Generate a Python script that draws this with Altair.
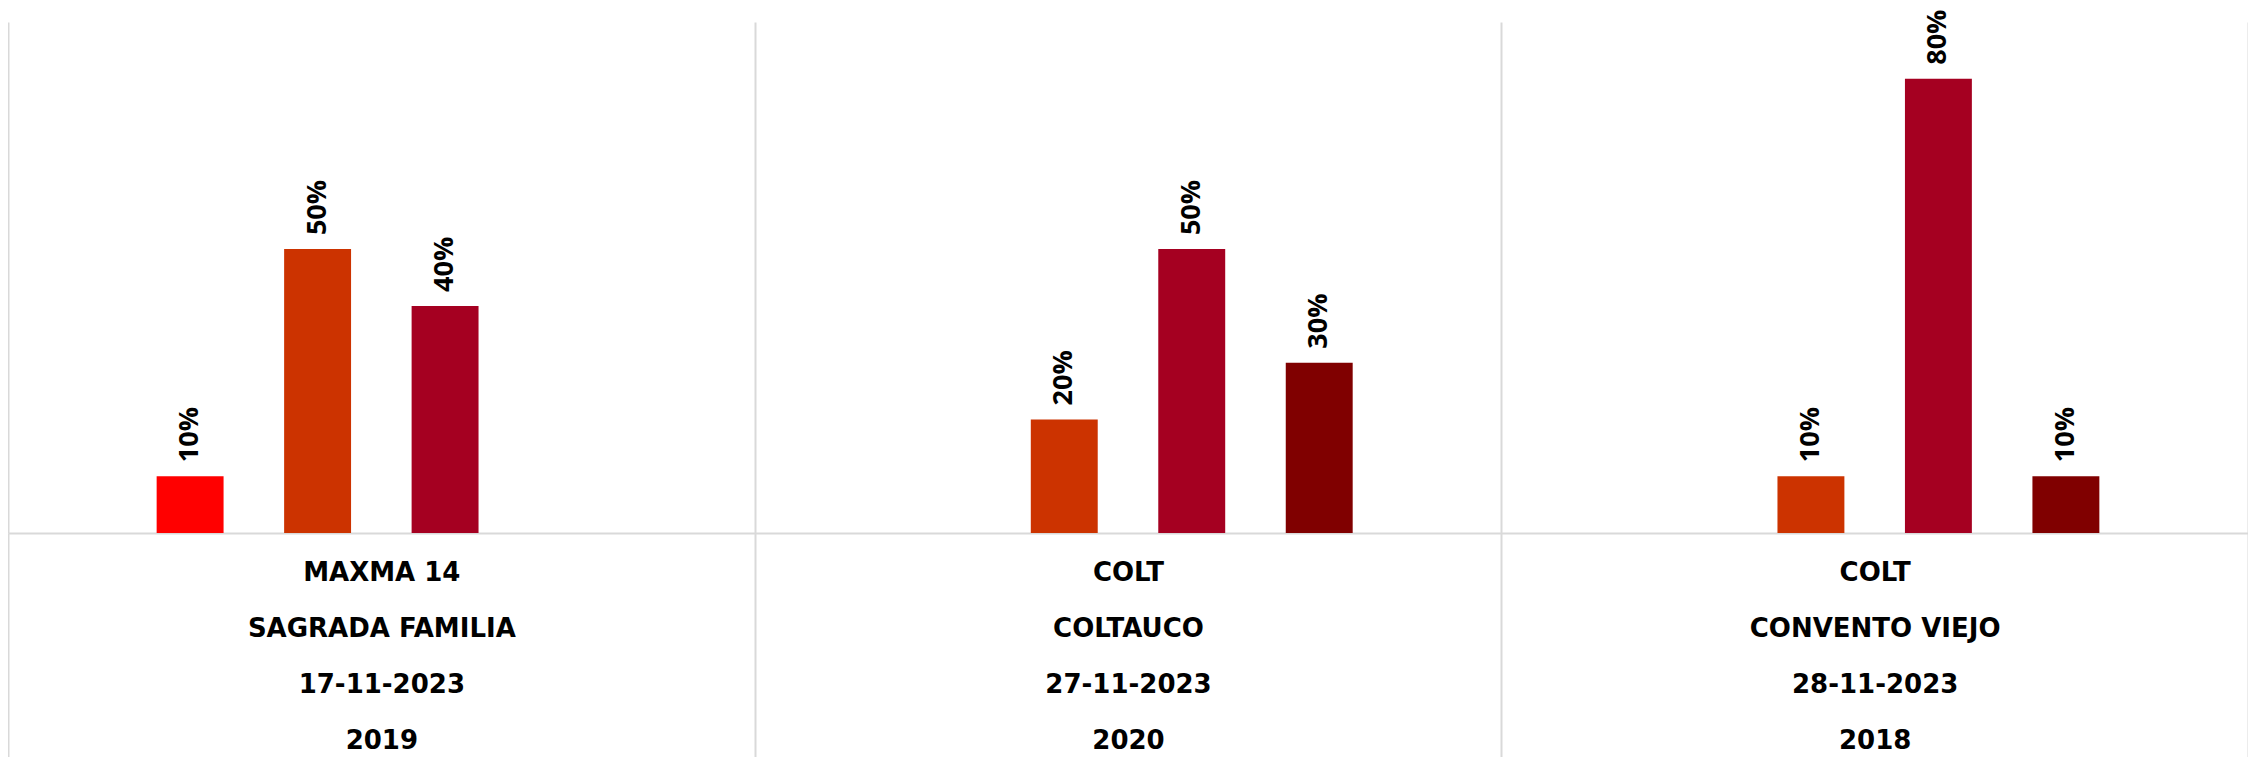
import altair as alt
import pandas as pd

# ---- data ----
variedad = ["MAXMA 14", "COLT", "COLT"]
localidad = ["SAGRADA FAMILIA", "COLTAUCO", "CONVENTO VIEJO"]
fecha = ["17-11-2023", "27-11-2023", "28-11-2023"]
anio = ["2019", "2020", "2018"]

series = ["Serie 1", "Serie 2", "Serie 3", "Serie 4"]
serie1 = [0.10, None, None]
serie2 = [0.50, 0.20, 0.10]
serie3 = [0.40, 0.50, 0.80]
serie4 = [None, 0.30, 0.10]
colores = ["#FF0000", "#CC3300", "#A50021", "#800000"]

grupos = [f"{v}|{l}|{f}|{a}" for v, l, f, a in zip(variedad, localidad, fecha, anio)]
valores = [serie1, serie2, serie3, serie4]

rows = []
for s, vals in zip(series, valores):
    for g, v in zip(grupos, vals):
        if v is not None:
            rows.append({"grupo": g, "serie": s, "valor": v})
df = pd.DataFrame(rows)

# empty slots on both sides of each category (spacing like the original)
offset_domain = ["_izq"] + series + ["_der"]

grid_color = "#d9d9d9"

base = alt.Chart(df).encode(
    x=alt.X(
        "grupo:N",
        sort=grupos,
        scale=alt.Scale(domain=grupos, paddingInner=0, paddingOuter=0),
        axis=alt.Axis(
            title=None,
            labelAngle=0,
            labelExpr="split(datum.label, '|')",
            labelFont="DejaVu Sans",
            labelFontSize=26,
            labelFontWeight="bold",
            labelColor="#000000",
            labelLineHeight=56,
            labelBaseline="top",
            labelPadding=-198,
            labelLimit=1000,
            labelOverlap=False,
            tickBand="extent",
            ticks=True,
            tickSize=224,
            tickColor=grid_color,
            tickWidth=2,
            grid=True,
            gridColor=grid_color,
            gridWidth=2,
            domainColor=grid_color,
            domainWidth=2,
        ),
    ),
    xOffset=alt.XOffset(
        "serie:N",
        scale=alt.Scale(domain=offset_domain, paddingInner=0.475, paddingOuter=0.166),
    ),
    y=alt.Y(
        "valor:Q",
        scale=alt.Scale(domain=[0, 0.9], nice=False, zero=True),
        axis=None,
    ),
)

bars = base.mark_bar().encode(
    color=alt.Color("serie:N", scale=alt.Scale(domain=series, range=colores), legend=None)
)

labels = base.mark_text(
    angle=270,
    align="left",
    baseline="middle",
    dx=14,
    font="Open Sans",
    fontSize=27,
    fontWeight=700,
    color="#000000",
).encode(text=alt.Text("valor:Q", format=".0%"))

chart = (
    alt.layer(bars, labels)
    .properties(
        width=2240,
        height=511,
        autosize=alt.AutoSizeParams(type="none"),
        padding={"top": 14, "left": 0, "right": 0, "bottom": 226},
    )
    .configure_view(strokeWidth=0)
)

chart.save("out.html", embed_options={"renderer": "svg", "actions": False})
